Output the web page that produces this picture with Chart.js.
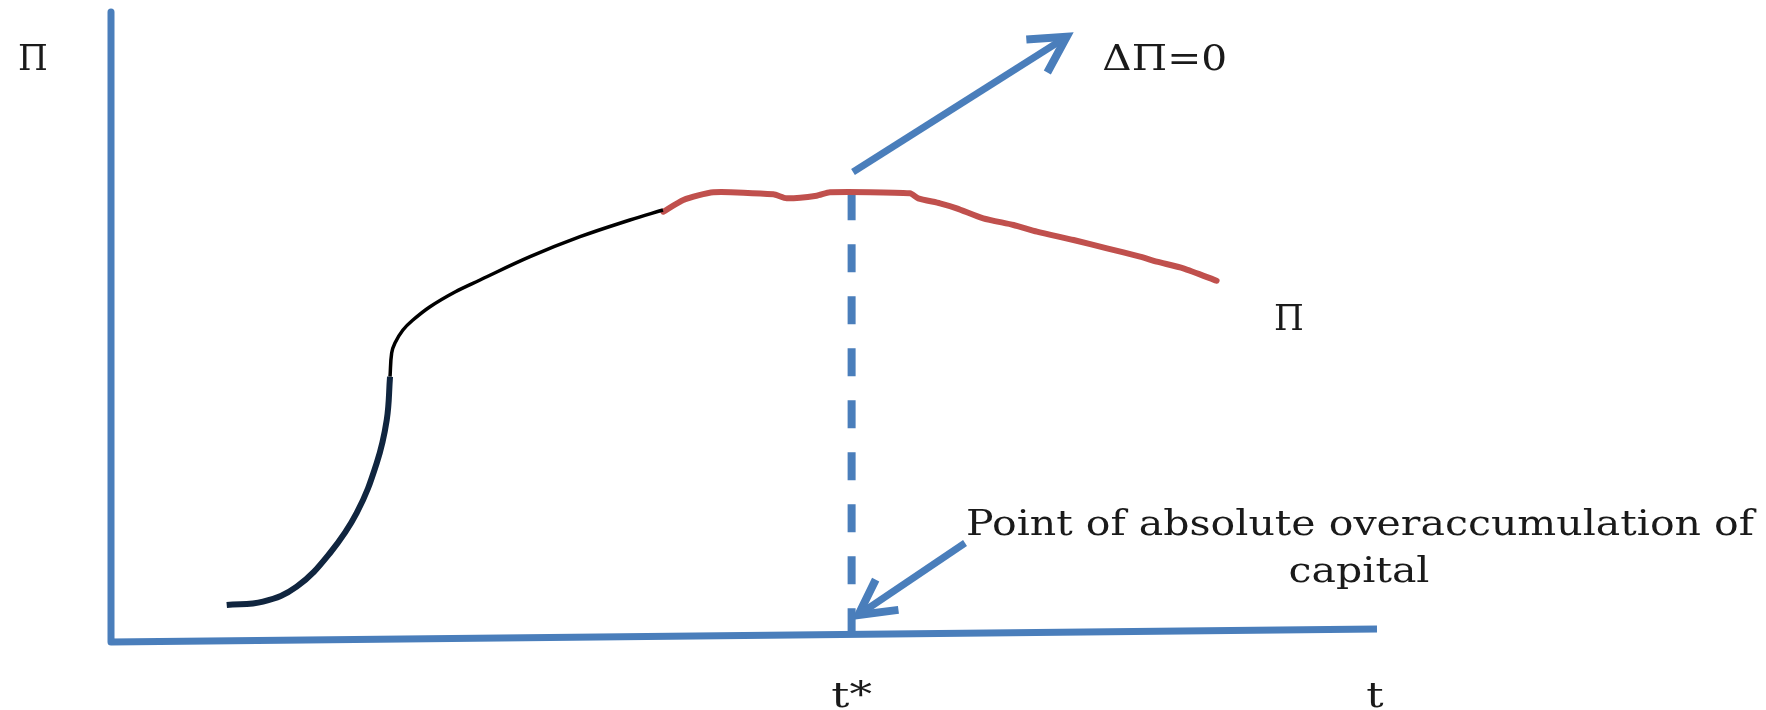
<!DOCTYPE html>
<html>
<head>
<meta charset="utf-8">
<script src="https://cdn.jsdelivr.net/npm/chart.js@4/dist/chart.umd.min.js"></script>
<style>
html,body{margin:0;padding:0;background:#fff;}
#wrap{width:1766px;height:710px;}
</style>
</head>
<body>
<div id="wrap"><canvas id="c" width="1766" height="710"></canvas></div>
<script>
// ---- data (t along horizontal, Π along vertical, 0..100 scale) ----
const axisT  = [0, 0, 100];
const axisPi = [100, 0, 2.06];

// early, steep growth phase (dark navy)
const navyT  = [9.14, 12.01, 14.67, 17.30, 19.41, 20.99, 21.78, 22.04];
const navyPi = [5.87, 6.40, 8.78, 14.13, 20.48, 28.41, 35.24, 42.11];

// decelerating growth (black)
const blackT  = [22.04, 22.17, 22.43, 23.06, 23.85, 25.20, 27.17, 29.15, 33.10, 37.05, 40.99, 43.60];
const blackPi = [42.11, 45.87, 47.46, 49.52, 51.11, 53.22, 55.56, 57.46, 61.16, 64.33, 66.98, 68.57];

// plateau and decline of profit Π (red)
const redT  = [43.63, 45.21, 47.58, 52.32, 53.37, 55.74, 56.79, 63.11, 63.76, 65.48, 66.80, 68.90, 71.29, 73.14, 76.03, 78.67, 81.28, 82.60, 84.70, 87.33];
const redPi = [68.30, 70.16, 71.38, 71.06, 70.43, 70.84, 71.38, 71.22, 70.43, 69.63, 68.84, 67.25, 66.19, 65.13, 63.81, 62.49, 61.16, 60.37, 59.32, 57.35];

// t* marker
const tStar  = 58.5;
const dashPi = [71.4, 1.3];

// arrow towards "ΔΠ=0"
const riseShaftT  = [58.61, 75.49];
const riseShaftPi = [74.60, 96.08];
const riseHeadT   = [72.30, 75.49, 73.96];
const riseHeadPi  = [95.62, 96.08, 90.40];

// arrow from the annotation to t*
const pointShaftT  = [67.46, 59.03];
const pointShaftPi = [15.71, 4.29];
const pointHeadT   = [62.20, 59.03, 60.40];
const pointHeadPi  = [5.10, 4.29, 9.90];

// text labels (anchor in data units)
const labelTexts = ['Π', 'ΔΠ=0', 'Π', 'Point of absolute overaccumulation of', 'capital', 't*', 't'];
const labelT     = [-6.16, 78.3, 93.05, 98.66, 98.58, tStar, 99.84];
const labelPi    = [90.79, 90.79, 49.52, 16.98, 9.57, -10.27, -10.27];
const labelAlign = ['center', 'left', 'center', 'center', 'center', 'center', 'center'];
const labelStretch = [0.95, 1.13, 0.95, 1.14, 1.14, 1.25, 1.2];

// ---- build ----
const pts = (xs, ys) => xs.map((x, i) => ({x: x, y: ys[i]}));
const BLUE = '#4a7ebb', RED = '#c0504d', NAVY = '#10253f';

function ds(data, color, width, extra) {
  return Object.assign({
    data: data, showLine: true, pointRadius: 0, borderColor: color, backgroundColor: color,
    borderWidth: width, fill: false, tension: 0, clip: false,
    borderCapStyle: 'butt', borderJoinStyle: 'miter'
  }, extra || {});
}

const datasets = [
  ds(pts(axisT, axisPi), BLUE, 7, {borderJoinStyle: 'round'}),
  ds(pts(navyT, navyPi), NAVY, 6, {tension: 0.4}),
  ds(pts(blackT, blackPi), '#000000', 3.5, {tension: 0.4, borderJoinStyle: 'round'}),
  ds(pts(redT, redPi), RED, 6, {tension: 0.2, borderCapStyle: 'round', borderJoinStyle: 'round'}),
  ds(pts([tStar, tStar], dashPi), BLUE, 8, {borderDash: [28, 24]}),
  ds(pts(riseShaftT, riseShaftPi), BLUE, 7),
  ds(pts(riseHeadT, riseHeadPi), BLUE, 8),
  ds(pts(pointShaftT, pointShaftPi), BLUE, 7),
  ds(pts(pointHeadT, pointHeadPi), BLUE, 8)
];

const textPlugin = {
  id: 'textLabels',
  afterDatasetsDraw(chart) {
    const ctx = chart.ctx, xs = chart.scales.x, ys = chart.scales.y;
    ctx.fillStyle = '#1a1a1a';
    ctx.textBaseline = 'alphabetic';
    ctx.font = '36px "DejaVu Serif"';
    labelTexts.forEach((txt, i) => {
      ctx.save();
      ctx.translate(xs.getPixelForValue(labelT[i]), ys.getPixelForValue(labelPi[i]));
      ctx.scale(labelStretch[i], 1);
      ctx.textAlign = labelAlign[i];
      ctx.fillText(txt, 0, 0);
      ctx.restore();
    });
  }
};

new Chart(document.getElementById('c'), {
  type: 'scatter',
  data: {datasets: datasets},
  options: {
    responsive: false,
    animation: false,
    devicePixelRatio: 1,
    layout: {padding: {left: 111, right: 389, top: 12, bottom: 68}},
    scales: {
      x: {type: 'linear', min: 0, max: 100, display: false},
      y: {type: 'linear', min: 0, max: 100, display: false}
    },
    plugins: {legend: {display: false}, tooltip: {enabled: false}}
  },
  plugins: [textPlugin]
});
</script>
</body>
</html>
